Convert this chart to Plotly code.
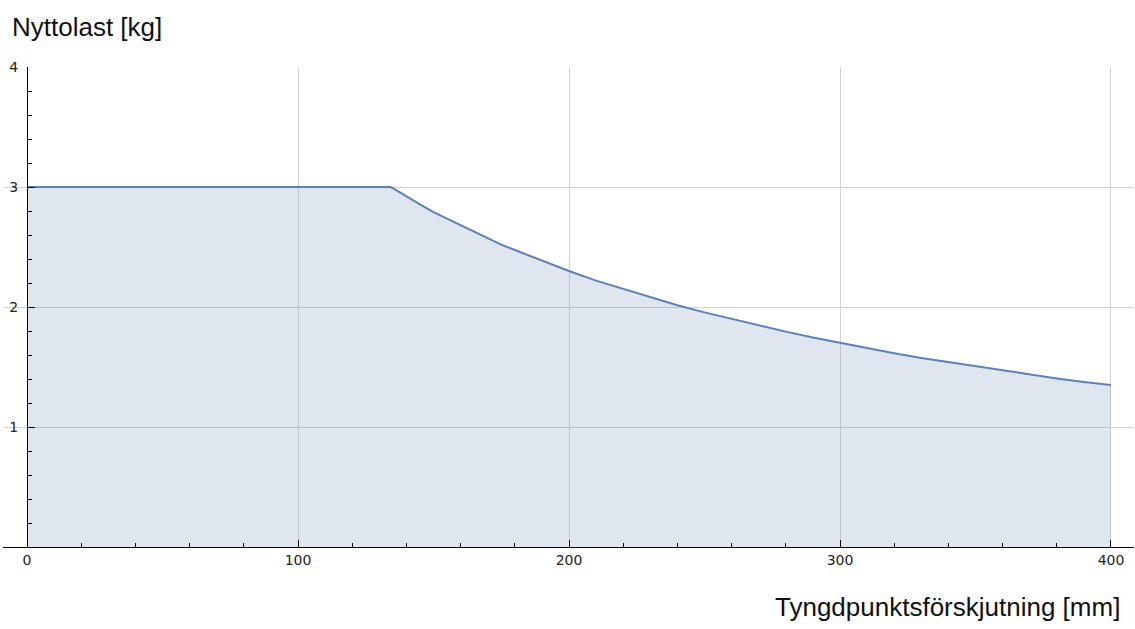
import plotly.graph_objects as go

# Data
offset_mm = [0, 134, 135, 140, 145, 150, 155, 160, 165, 170, 175, 180, 185,
             190, 195, 200, 210, 220, 230, 240, 250, 260, 270, 280, 290,
             300, 310, 320, 330, 340, 350, 360, 370, 380, 390, 400]
payload_kg = [3.00, 3.00, 2.99, 2.92, 2.855, 2.79, 2.735, 2.68, 2.625, 2.57,
              2.52, 2.475, 2.43, 2.385, 2.34, 2.30, 2.22, 2.15, 2.08, 2.015,
              1.955, 1.90, 1.845, 1.795, 1.745, 1.70, 1.655, 1.615, 1.575,
              1.54, 1.505, 1.47, 1.44, 1.405, 1.375, 1.35]

x_ticks = [0, 100, 200, 300, 400]
y_ticks = [1, 2, 3, 4]

x_title = "Tyngdpunktsförskjutning [mm]"
y_title = "Nyttolast [kg]"

W, H = 1135, 629
L, R, T, B = 3, 1, 67, 82
plot_w = W - L - R
plot_h = H - T - B
x_range = [-8.86, 408.49]
y_axis_pos = (0 - x_range[0]) / (x_range[1] - x_range[0])

line_color = "#5e81b5"
grid_color = "#d4d4d4"
tick_font = dict(family="DejaVu Sans", size=14, color="#222222")
title_font = dict(family="Liberation Sans", size=26, color="#111111")

fig = go.Figure()
fig.add_trace(go.Scatter(
    x=offset_mm, y=payload_kg, mode="lines",
    line=dict(color=line_color, width=2),
    fill="tozeroy", fillcolor="rgba(94,129,181,0.2)",
    hoverinfo="x+y", showlegend=False,
))

fig.update_layout(
    width=W, height=H,
    margin=dict(l=L, r=R, t=T, b=B),
    paper_bgcolor="white", plot_bgcolor="white",
    xaxis=dict(
        range=x_range, tickmode="array", tickvals=x_ticks,
        ticks="inside", ticklen=7, tickcolor="black", tickwidth=1,
        showline=True, linecolor="black", linewidth=1,
        showgrid=True, gridcolor=grid_color, gridwidth=1,
        zeroline=False, tickfont=tick_font,
        minor=dict(tickmode="linear", tick0=0, dtick=20, ticks="inside",
                   ticklen=4, tickcolor="black", showgrid=False),
        fixedrange=True,
    ),
    yaxis=dict(
        range=[0, 4], tickmode="array", tickvals=y_ticks,
        anchor="free", position=y_axis_pos,
        ticks="inside", ticklen=7, tickcolor="black", tickwidth=1,
        showline=True, linecolor="black", linewidth=1,
        showgrid=True, gridcolor=grid_color, gridwidth=1,
        zeroline=False, tickfont=tick_font, ticklabelstandoff=6,
        minor=dict(tickmode="linear", tick0=0, dtick=0.2, ticks="inside",
                   ticklen=4, tickcolor="black", showgrid=False),
        fixedrange=True,
    ),
    annotations=[
        dict(text=y_title, xref="paper", yref="paper",
             x=(10 - L) / plot_w, y=(H - B - 27) / plot_h,
             xanchor="left", yanchor="middle", showarrow=False,
             font=title_font),
        dict(text=x_title, xref="paper", yref="paper",
             x=(1122 - L) / plot_w, y=(H - B - 607) / plot_h,
             xanchor="right", yanchor="middle", showarrow=False,
             font=title_font),
    ],
)

fig.write_html("out.html",
               config={"displayModeBar": False},
               post_script="document.body.style.margin='0';"
                           "document.body.style.overflow='hidden';")
